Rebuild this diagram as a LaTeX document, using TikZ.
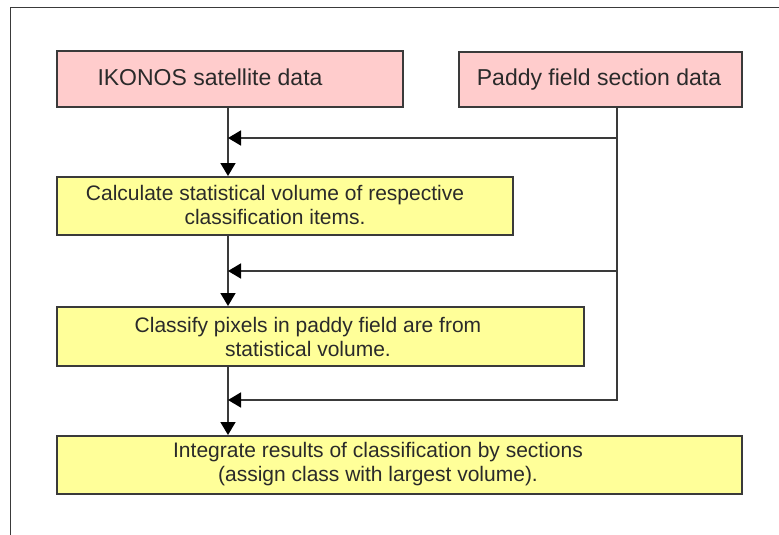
\documentclass[tikz,border=0pt]{standalone}
\usepackage{fontspec}
\setmainfont{Liberation Sans}
\usetikzlibrary{arrows.meta}
\definecolor{pinkfill}{HTML}{FFCCCC}
\definecolor{yelfill}{HTML}{FFFF99}
\definecolor{edge}{HTML}{3A3A3A}
\definecolor{txt}{HTML}{2A2A2A}
\tikzset{
  box/.style={draw=edge, line width=1.6pt, inner sep=0pt, anchor=north west},
  pinkbox/.style={box, fill=pinkfill},
  yelbox/.style={box, fill=yelfill},
  lbl/.style={text=txt, font=\fontsize{21}{23.5}\selectfont, align=center, inner sep=0pt},
  biglbl/.style={lbl, font=\fontsize{23}{26}\selectfont, anchor=base},
  conn/.style={draw=edge, line width=1.6pt},
  arr/.style={conn, -{Triangle[length=13pt,width=15pt,color=black]}},
}
\begin{document}
\begin{tikzpicture}[x=1pt,y=-1pt]
\useasboundingbox (0,0) rectangle (779,535);
\fill[white] (0,0) rectangle (779,535);
% frame
\draw[line width=1pt, draw=edge] (10,535) -- (10,8) -- (779,8);
% boxes
\node[pinkbox, minimum width=346pt, minimum height=56pt] (b1) at (56,50) {};
\node[pinkbox, minimum width=283pt, minimum height=55pt] (b2) at (458,51) {};
\node[yelbox, minimum width=456pt, minimum height=58pt] (b3) at (56,176) {};
\node[yelbox, minimum width=527pt, minimum height=59pt] (b4) at (56,306) {};
\node[yelbox, minimum width=685pt, minimum height=58pt] (b5) at (56,435) {};
% texts
\node[biglbl] (t1) at (210,85) {IKONOS satellite data};
\node[biglbl] (t2) at (599,85) {Paddy field section data};
\node[lbl] (t3) at (275,205) {Calculate statistical volume of respective\\classification items.};
\node[lbl] (t4) at (308,337) {Classify pixels in paddy field are from\\statistical volume.};
\node[lbl] (t5) at (378,464) {Integrate results of classification by sections\\(assign class with largest volume).};
% junctions
\coordinate (j1) at (228,138);
\coordinate (j2) at (228,271);
\coordinate (j3) at (228,400);
\coordinate (r1) at (617,138);
\coordinate (r2) at (617,271);
\coordinate (r3) at (617,400);
% main flow
\draw[arr] (b1.south -| j1) -- (b3.north -| j1);
\draw[arr] (b3.south -| j2) -- (b4.north -| j2);
\draw[arr] (b4.south -| j3) -- (b5.north -| j3);
% side feed
\draw[conn] (b2.south -| r1) -- (r3) -- ([xshift=-0.8pt]r3);
\draw[arr] (r1) -- (j1);
\draw[arr] (r2) -- (j2);
\draw[arr] (r3) -- (j3);
\end{tikzpicture}
\end{document}
